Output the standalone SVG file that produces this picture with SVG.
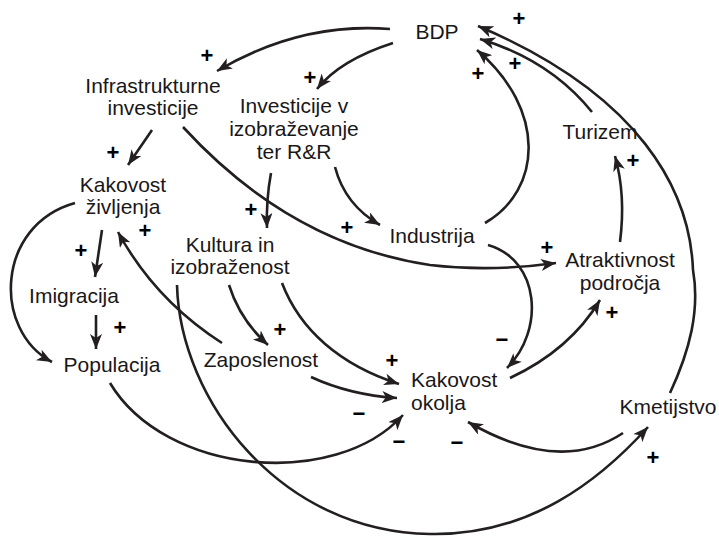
<svg xmlns="http://www.w3.org/2000/svg" width="719" height="537" viewBox="0 0 719 537">
  <style>
    .lbl { font-family: "Liberation Sans", Arial, sans-serif; font-size: 21px; fill: #1a1718; text-anchor: middle; }
    .lbl.left { text-anchor: start; }
    .sign { font-family: "Liberation Sans", Arial, sans-serif; font-size: 22px; font-weight: bold; fill: #000000; text-anchor: middle; dominant-baseline: central; }
    .link { fill: none; stroke: #231f20; stroke-width: 2.6; marker-end: url(#head); }
  </style>
  <defs>
    <marker id="head" markerUnits="userSpaceOnUse" markerWidth="16" markerHeight="12" refX="15" refY="6" orient="auto">
      <path d="M0,0 L15,6 L0,12 L4,6 z" fill="#231f20"/>
    </marker>
  </defs>
  <rect width="719" height="537" fill="#ffffff"/>

  <!-- causal links -->
  <g id="connectors">
    <path class="link" d="M390,29 Q300,22 217,71"/>
    <path class="link" d="M393,43 Q340,60 317,89"/>
    <path class="link" d="M152,130 L128,165"/>
    <path class="link" d="M183,127 C250,200 330,250 430,265 C480,271 520,268 556,263"/>
    <path class="link" d="M271,173 Q266,200 267,228"/>
    <path class="link" d="M335,167 Q345,205 380,225"/>
    <path class="link" d="M485,223 C542,190 547,110 477,50"/>
    <path class="link" d="M592,112 Q550,60 480,39"/>
    <path class="link" d="M670,393 C690,350 700,310 693,270 C690,190 640,95 478,26"/>
    <path class="link" d="M620,242 Q626,195 615,156"/>
    <path class="link" d="M75,203 C-4,225 -8,330 52,362"/>
    <path class="link" d="M102,230 L95,277"/>
    <path class="link" d="M96,315 L96,349"/>
    <path class="link" d="M222,343 Q155,300 118,232"/>
    <path class="link" d="M229,285 Q240,320 268,345"/>
    <path class="link" d="M282,283 C300,330 340,365 399,384"/>
    <path class="link" d="M311,377 Q350,395 397,398"/>
    <path class="link" d="M110,383 C165,475 335,490 403,415"/>
    <path class="link" d="M177,285 C180,400 280,532 430,534 C530,536 600,480 648,427"/>
    <path class="link" d="M488,245 C540,260 545,330 507,368"/>
    <path class="link" d="M510,378 Q570,350 600,300"/>
    <path class="link" d="M623,433 Q560,475 468,422"/>
  </g>

  <!-- link polarities -->
  <g id="polarities">
    <text class="sign" x="519" y="18">+</text>
    <text class="sign" x="207" y="55">+</text>
    <text class="sign" x="310" y="77">+</text>
    <text class="sign" x="478" y="73">+</text>
    <text class="sign" x="515" y="63">+</text>
    <text class="sign" x="113" y="152">+</text>
    <text class="sign" x="633" y="160">+</text>
    <text class="sign" x="145" y="230">+</text>
    <text class="sign" x="251" y="209">+</text>
    <text class="sign" x="347" y="227">+</text>
    <text class="sign" x="547" y="247">+</text>
    <text class="sign" x="81" y="250">+</text>
    <text class="sign" x="120" y="327">+</text>
    <text class="sign" x="280" y="329">+</text>
    <text class="sign" x="392" y="360">+</text>
    <text class="sign" x="612" y="312">+</text>
    <text class="sign" x="653" y="457">+</text>
    <text class="sign" x="502" y="339">−</text>
    <text class="sign" x="359" y="413">−</text>
    <text class="sign" x="399" y="441">−</text>
    <text class="sign" x="457" y="442">−</text>
  </g>

  <g id="bdp"><text class="lbl" x="437" y="39">BDP</text></g>
  <g id="infrastrukturne-investicije">
    <text class="lbl" x="153" y="93">Infrastrukturne</text>
    <text class="lbl" x="153" y="115">investicije</text>
  </g>
  <g id="investicije-izobrazevanje">
    <text class="lbl" x="294" y="113">Investicije v</text>
    <text class="lbl" x="294" y="136">izobraževanje</text>
    <text class="lbl" x="294" y="159">ter R&amp;R</text>
  </g>
  <g id="turizem"><text class="lbl" x="600" y="139">Turizem</text></g>
  <g id="kakovost-zivljenja">
    <text class="lbl" x="123" y="192">Kakovost</text>
    <text class="lbl" x="123" y="214">življenja</text>
  </g>
  <g id="kultura">
    <text class="lbl" x="230" y="252">Kultura in</text>
    <text class="lbl" x="230" y="274">izobraženost</text>
  </g>
  <g id="industrija"><text class="lbl" x="432" y="243">Industrija</text></g>
  <g id="atraktivnost">
    <text class="lbl" x="620" y="267">Atraktivnost</text>
    <text class="lbl" x="620" y="290">področja</text>
  </g>
  <g id="imigracija"><text class="lbl" x="74" y="303">Imigracija</text></g>
  <g id="populacija"><text class="lbl" x="112" y="372">Populacija</text></g>
  <g id="zaposlenost"><text class="lbl" x="261" y="367">Zaposlenost</text></g>
  <g id="kakovost-okolja">
    <text class="lbl left" x="411" y="387">Kakovost</text>
    <text class="lbl left" x="411" y="410">okolja</text>
  </g>
  <g id="kmetijstvo"><text class="lbl" x="668" y="414">Kmetijstvo</text></g>
</svg>
